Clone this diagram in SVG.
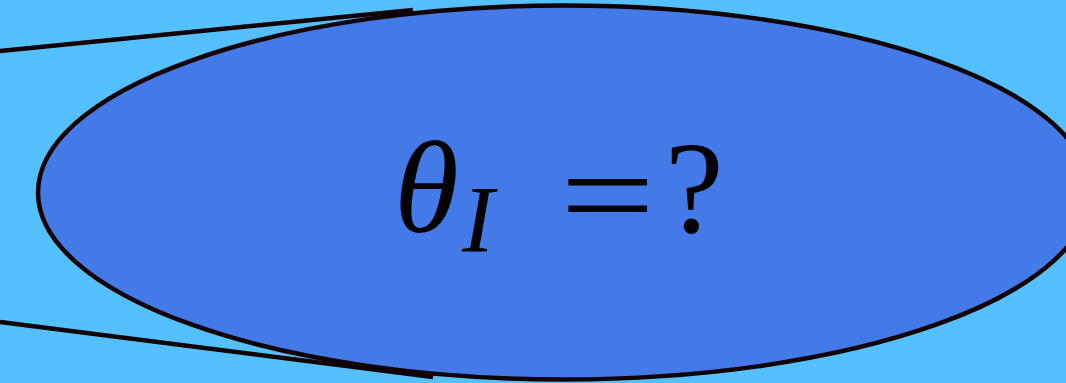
<svg xmlns="http://www.w3.org/2000/svg" width="1066" height="383" viewBox="0 0 1066 383">
<style>
.edge{stroke:#100000;stroke-width:4.5;fill:none}
.node{fill:#4479E8;stroke:#100000;stroke-width:4.5}
.t{font-family:"Liberation Serif","DejaVu Serif",serif;font-size:132px;fill:#000}
</style>
<rect width="1066" height="383" fill="#55C0FF"/>
<g id="connectors">
<line class="edge" x1="0" y1="51" x2="413" y2="10"/>
<line class="edge" x1="0" y1="322" x2="433" y2="377"/>
</g>
<g id="node-theta">
<ellipse class="node" cx="564" cy="192.5" rx="526" ry="187"/>
<text class="t" y="232"><tspan x="394" font-style="italic">θ</tspan><tspan x="462" y="252" font-size="96" font-style="italic">I</tspan></text>
<text class="t" transform="translate(560,239) scale(1.28,1)">=</text>
<text class="t" x="665" y="232">?</text>
</g>
</svg>
